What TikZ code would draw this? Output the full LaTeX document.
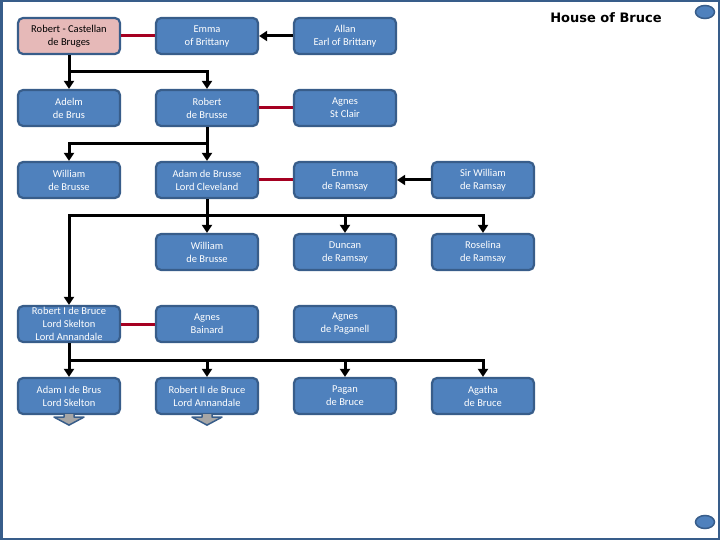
\documentclass[tikz,border=0pt]{standalone}
\usepackage{fontspec}
\setmainfont{Carlito}
\newfontfamily\titlefont{DejaVu Sans}
\usetikzlibrary{arrows.meta, positioning, shapes.geometric}
\definecolor{BoxBlue}{HTML}{4F81BD}
\definecolor{EdgeBlue}{HTML}{385D8A}
\definecolor{RoseFill}{HTML}{E6B9B8}
\definecolor{WedRed}{HTML}{A50021}
\definecolor{TipGray}{HTML}{A6A6A6}

\begin{document}
\begin{tikzpicture}[x=1pt, y=-1pt,
        person/.style={draw=EdgeBlue, line width=2.2pt, rounded corners=5pt, fill=BoxBlue, text=white,
                    minimum width=102pt, minimum height=36pt, inner sep=0pt, align=center,
                    font=\fontsize{10.5}{13}\selectfont},
        founder/.style={person, fill=RoseFill, text=black},
        wed/.style={WedRed, line width=3pt},
        kin/.style={line width=3pt, -{Triangle[width=10pt,length=8pt]}},
        tipblock/.style={draw=EdgeBlue, line width=1.5pt, fill=TipGray, line join=round},
        knob/.style={ellipse, draw=EdgeBlue, line width=1.5pt, fill=BoxBlue, minimum width=19pt, minimum height=13pt, inner sep=0pt}]
        \useasboundingbox (0,0) rectangle (720,540);
        \draw[EdgeBlue, line width=2pt] (1,1) rectangle (719,539);
        \draw[EdgeBlue, line width=3pt] (1.5,0) -- (1.5,540);
        \node[font=\titlefont\bfseries\fontsize{13}{15}\selectfont] (title) at (606,18) {House of Bruce};
        \node[knob] (knobtop) at (705,12) {};
        \node[knob] (knobbot) at (705,522) {};
        % row 1
        \node[founder] (castellan) at (69,36)  {Robert - Castellan\\de Bruges};
        \node[person]  (emmab)     at (207,36) {Emma\\of Brittany};
        \node[person]  (allan)     at (345,36) {Allan\\Earl of Brittany};
        % row 2
        \node[person]  (adelm)     at (69,108)  {Adelm\\de Brus};
        \node[person]  (robertb)   at (207,108) {Robert\\de Brusse};
        \node[person]  (agnesc)    at (345,108) {Agnes\\St Clair};
        % row 3
        \node[person]  (william)   at (69,180)  {William\\de Brusse};
        \node[person]  (adam)      at (207,180) {Adam de Brusse\\Lord Cleveland};
        \node[person]  (emmar)     at (345,180) {Emma\\de Ramsay};
        \node[person]  (sirwill)   at (483,180) {Sir William\\de Ramsay};
        % row 4
        \node[person]  (williamb)  at (207,252) {William\\de Brusse};
        \node[person]  (duncan)    at (345,252) {Duncan\\de Ramsay};
        \node[person]  (roselina)  at (483,252) {Roselina\\de Ramsay};
        % row 5
        \node[person]  (robert1)   at (69,324)  {Robert I de Bruce\\Lord Skelton\\Lord Annandale};
        \node[person]  (bainard)   at (207,324) {Agnes\\Bainard};
        \node[person]  (paganell)  at (345,324) {Agnes\\de Paganell};
        % row 6
        \node[person]  (adam1)     at (69,396)  {Adam I de Brus\\Lord Skelton};
        \node[person]  (robert2)   at (207,396) {Robert II de Bruce\\Lord Annandale};
        \node[person]  (pagan)     at (345,396) {Pagan\\de Bruce};
        \node[person]  (agatha)    at (483,396) {Agatha\\de Bruce};
        % marriages
        \draw[wed] (castellan) -- (emmab);
        \draw[wed] (robertb) -- (agnesc);
        \draw[wed] (adam) -- (emmar);
        \draw[wed] (robert1) -- (bainard);
        % parents of brides
        \draw[kin] (allan) -- (emmab);
        \draw[kin] (sirwill) -- (emmar);
        % descent
        \coordinate (fork1) at (69,72);
        \coordinate (fork2) at (207,144);
        \coordinate (fork3) at (207,216);
        \coordinate (fork4) at (69,360);
        \draw[kin] (castellan) -- (adelm);
        \draw[kin] (fork1) -| (robertb.north);
        \draw[kin] (robertb) -- (adam);
        \draw[kin] (fork2) -| (william.north);
        \draw[kin] (adam) -- (williamb);
        \draw[kin] (fork3) -| (roselina.north);
        \draw[kin] (fork3 -| duncan) -- (duncan);
        \draw[kin] (fork3) -| (robert1.north);
        \draw[kin] (robert1) -- (adam1);
        \draw[kin] (fork4) -| (agatha.north);
        \draw[kin] (fork4 -| robert2) -- (robert2);
        \draw[kin] (fork4 -| pagan) -- (pagan);
        % continued lines
        \foreach \heir in {adam1, robert2}
          \draw[tipblock] ([xshift=-5pt, yshift=1pt]\heir.south) -- ++(0,3) -- ++(-10,0) -- ++(15,8)
                          -- ++(15,-8) -- ++(-10,0) -- ++(0,-3);
      \end{tikzpicture}
\end{document}
